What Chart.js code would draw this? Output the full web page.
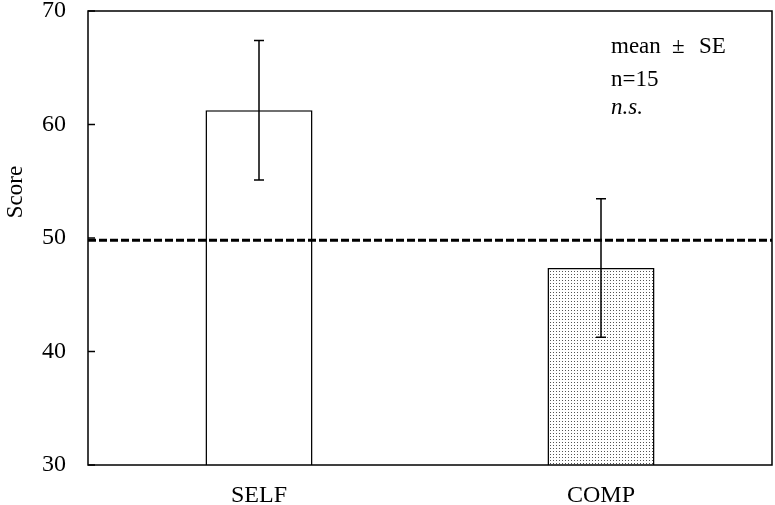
<!DOCTYPE html>
<html>
<head>
<meta charset="utf-8">
<script src="https://cdn.jsdelivr.net/npm/chart.js@4.4.1/dist/chart.umd.min.js"></script>
<style>
    html, body { margin: 0; padding: 0; background: #fff; }
    #wrap { width: 775px; height: 505px; }
</style>
</head>
<body>
<div id="wrap"><canvas id="score-chart" width="775" height="505"></canvas></div>
<script>
// datos
const categorias = ['SELF', 'COMP'];
const medias = [61.25, 47.35];
const errores = [6.15, 6.1];
const lineaReferencia = 49.8;
const ticksY = [30, 40, 50, 60, 70];
const tituloY = 'Score';
const notas = ['mean', '\u00B1', 'SE', 'n=15', 'n.s.'];

const fuente = "'Liberation Serif', 'Times New Roman', serif";

// trama de puntos para la barra COMP
const crearTrama = () => {
    const c = document.createElement('canvas');
    c.width = 3;
    c.height = 3;
    const g = c.getContext('2d');
    g.fillStyle = '#fff';
    g.fillRect(0, 0, 3, 3);
    g.fillStyle = '#555';
    g.fillRect(1, 1, 1, 1);
    return g.createPattern(c, 'repeat');
};

// marco, marcas hacia dentro, linea discontinua, barras de error y notas
const extras = {
    id: 'extras',
    afterDatasetsDraw(chart) {
        const ctx = chart.ctx;
        const area = chart.chartArea;
        const x = chart.scales.x;
        const y = chart.scales.y;
        ctx.save();
        ctx.strokeStyle = '#000';

        // linea discontinua de referencia
        const yRef = y.getPixelForValue(lineaReferencia);
        ctx.lineWidth = 3;
        ctx.setLineDash([8, 3]);
        ctx.beginPath();
        ctx.moveTo(area.left, yRef);
        ctx.lineTo(area.right, yRef);
        ctx.stroke();
        ctx.setLineDash([]);

        // barras de error
        ctx.lineWidth = 1.5;
        medias.forEach((m, i) => {
            const cx = x.getPixelForValue(i);
            const yTop = y.getPixelForValue(m + errores[i]);
            const yBot = y.getPixelForValue(m - errores[i]);
            ctx.beginPath();
            ctx.moveTo(cx, yTop);
            ctx.lineTo(cx, yBot);
            ctx.moveTo(cx - 5, yTop);
            ctx.lineTo(cx + 5, yTop);
            ctx.moveTo(cx - 5, yBot);
            ctx.lineTo(cx + 5, yBot);
            ctx.stroke();
        });

        // marcas del eje Y hacia dentro
        ticksY.forEach(v => {
            const ty = y.getPixelForValue(v);
            ctx.beginPath();
            ctx.moveTo(area.left, ty);
            ctx.lineTo(area.left + 7, ty);
            ctx.stroke();
        });

        // marco
        ctx.lineWidth = 1.5;
        ctx.strokeRect(area.left, area.top, area.right - area.left, area.bottom - area.top);

        // titulo del eje Y (un poco por encima del centro, como en la figura)
        ctx.fillStyle = '#000';
        ctx.save();
        ctx.translate(16, 192);
        ctx.rotate(-Math.PI / 2);
        ctx.textAlign = 'center';
        ctx.textBaseline = 'middle';
        ctx.font = '23px ' + fuente;
        ctx.fillText(tituloY, 0, 0);
        ctx.restore();

        // notas
        ctx.textBaseline = 'alphabetic';
        ctx.textAlign = 'left';
        ctx.font = '23px ' + fuente;
        ctx.fillText(notas[0], 611, 53);
        ctx.fillText(notas[1], 672, 53);
        ctx.fillText(notas[2], 699, 53);
        ctx.fillText(notas[3], 611, 86);
        ctx.font = 'italic 23px ' + fuente;
        ctx.fillText(notas[4], 611, 114);
        ctx.restore();
    }
};

new Chart(document.getElementById('score-chart'), {
    type: 'bar',
    data: {
        labels: categorias,
        datasets: [{
            data: medias,
            backgroundColor: ['#ffffff', crearTrama()],
            borderColor: '#000',
            borderWidth: 1.5,
            borderSkipped: false,
            barPercentage: 0.313,
            categoryPercentage: 1
        }]
    },
    options: {
        responsive: false,
        animation: false,
        events: [],
        layout: { padding: { top: 11, right: 3, left: 0, bottom: 0 } },
        plugins: {
            legend: { display: false },
            tooltip: { enabled: false }
        },
        scales: {
            x: {
                grid: { display: false, drawTicks: false },
                border: { display: false },
                ticks: { color: '#000', padding: 16, font: { family: fuente, size: 24 } },
                afterFit: (scale) => { scale.height = 40; }
            },
            y: {
                min: 30,
                max: 70,
                grid: { display: false, drawTicks: false },
                border: { display: false },
                ticks: {
                    stepSize: 10,
                    color: '#000',
                    padding: 22,
                    font: { family: fuente, size: 24 }
                },
                afterFit: (scale) => {
                    scale.width = 88;
                    scale.paddingTop = 0;
                    scale.paddingBottom = 0;
                }
            }
        }
    },
    plugins: [extras]
});
</script>
</body>
</html>
